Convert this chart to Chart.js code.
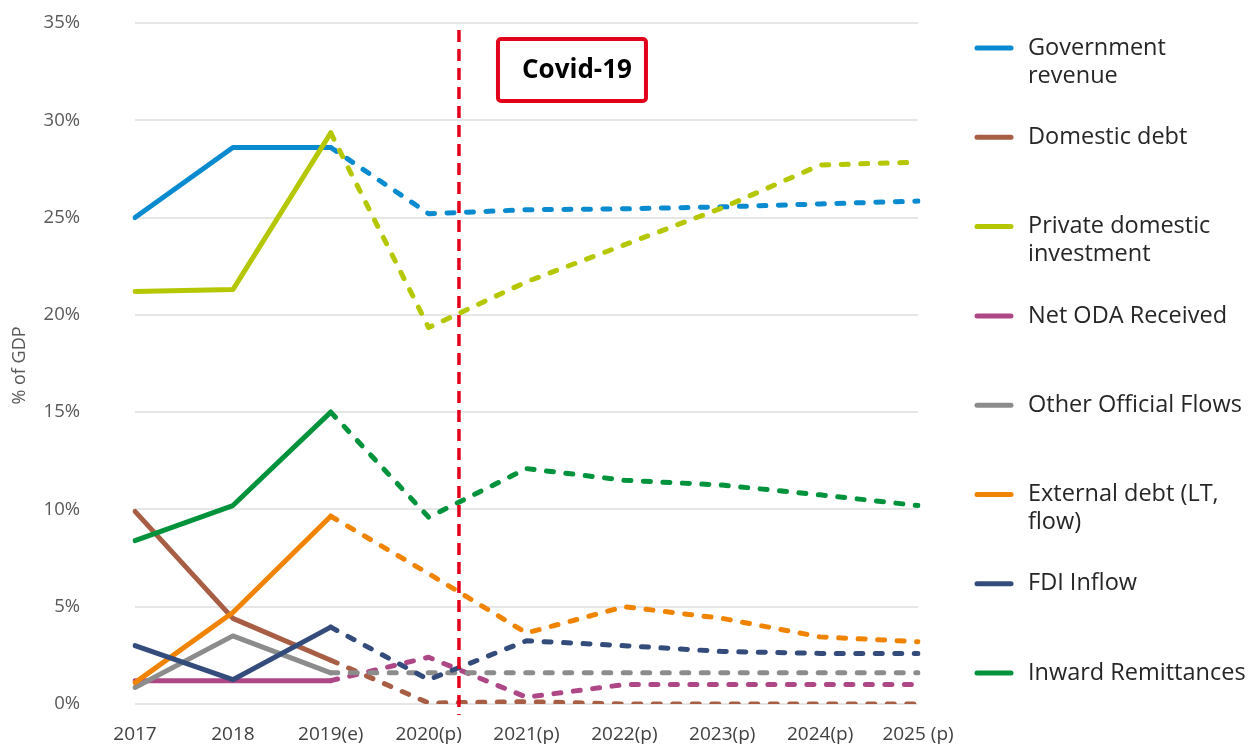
<!DOCTYPE html>
<html lang="en">
<head>
    <meta charset="UTF-8">
    <title>Financing flows, % of GDP</title>
    <script src="https://cdn.jsdelivr.net/npm/chart.js"></script>
    <style>
        body {
            margin: 0;
            padding: 0;
            background: #ffffff;
        }
        .chart-box {
            position: relative;
            width: 1249px;
            height: 747px;
        }
    </style>
</head>
<body>
    <div class="chart-box">
        <canvas id="flowsChart" width="1249" height="747"></canvas>
    </div>

    <script>
        // categories and series (% of GDP)
        const years = ["2017", "2018", "2019(e)", "2020(p)", "2021(p)", "2022(p)", "2023(p)", "2024(p)", "2025 (p)"];
        const govRevenue = [25.0, 28.6, 28.6, 25.2, 25.4, 25.45, 25.55, 25.7, 25.85];
        const domesticDebt = [9.9, 4.4, 2.25, 0.05, 0.12, 0, 0, 0, 0];
        const privateInvestment = [21.2, 21.3, 29.35, 19.35, 21.7, 23.6, 25.5, 27.7, 27.85];
        const netOda = [1.2, 1.2, 1.2, 2.4, 0.35, 1.0, 1.0, 1.0, 1.0];
        const otherOfficial = [0.85, 3.5, 1.6, 1.6, 1.6, 1.6, 1.6, 1.6, 1.6];
        const externalDebt = [1.1, 4.7, 9.65, 6.7, 3.65, 5.0, 4.4, 3.45, 3.2];
        const fdiInflow = [3.0, 1.25, 3.95, 1.25, 3.25, 3.0, 2.7, 2.6, 2.6];
        const remittances = [8.4, 10.2, 15.0, 9.6, 12.1, 11.5, 11.25, 10.75, 10.2];

        const seriesNames = [
            ["Government", "revenue"],
            ["Domestic debt"],
            ["Private domestic", "investment"],
            ["Net ODA Received"],
            ["Other Official Flows"],
            ["External debt (LT,", "flow)"],
            ["FDI Inflow"],
            ["Inward Remittances"]
        ];
        const seriesValues = [govRevenue, domesticDebt, privateInvestment, netOda, otherOfficial, externalDebt, fdiInflow, remittances];
        const seriesColors = ["#0A8BD0", "#A85E45", "#B4C700", "#AE4786", "#8C8C8C", "#F08400", "#344C7C", "#00933C"];

        const yTicks = [0, 5, 10, 15, 20, 25, 30, 35];
        const yTitle = "% of GDP";
        const lastActualIndex = 2;     // 2019(e): dashed after this point
        const covidLabel = "Covid-19";
        const covidAt = 3.31;          // between 2020(p) and 2021(p)

        const FONT = "'Open Sans', 'Noto Sans', sans-serif";

        const datasets = seriesValues.map(function (vals, i) {
            return {
                label: seriesNames[i].join(" "),
                data: vals,
                borderColor: seriesColors[i],
                backgroundColor: seriesColors[i],
                borderWidth: 5,
                borderCapStyle: "round",
                borderJoinStyle: "round",
                pointRadius: 0,
                tension: 0,
                order: seriesValues.length - i,
                segment: {
                    borderDash: function (ctx) {
                        return ctx.p0DataIndex >= lastActualIndex ? [7, 12.5] : undefined;
                    }
                }
            };
        });

        // red dashed marker line + Covid-19 box + y title + legend on the right
        const extras = {
            id: "extras",
            afterDatasetsDraw: function (chart) {
                const c = chart.ctx;
                const area = chart.chartArea;
                const x = chart.scales.x.getPixelForValue(covidAt);

                c.save();
                c.strokeStyle = "#E3001B";
                c.lineWidth = 3.5;
                c.setLineDash([12, 7]);
                c.beginPath();
                c.moveTo(x, area.top + 7);
                c.lineTo(x, area.bottom + 11);
                c.stroke();
                c.setLineDash([]);

                // box
                const bx = x + 39, by = area.top + 16, bw = 148, bh = 62;
                c.lineWidth = 4;
                c.beginPath();
                c.roundRect(bx, by, bw, bh, 3);
                c.fillStyle = "#ffffff";
                c.fill();
                c.stroke();
                c.fillStyle = "#000000";
                c.font = "bold 26px " + FONT;
                c.textAlign = "center";
                c.textBaseline = "middle";
                c.fillText(covidLabel, bx + bw / 2 + 5, by + bh / 2 + 1);
                c.restore();

                // y axis title
                c.save();
                c.translate(20, (area.top + area.bottom) / 2 + 2);
                c.rotate(-Math.PI / 2);
                c.font = "18px " + FONT;
                c.fillStyle = "#595959";
                c.textAlign = "center";
                c.textBaseline = "middle";
                c.fillText(yTitle, 0, 0);
                c.restore();

                // legend
                c.save();
                c.font = "23.5px " + FONT;
                c.textAlign = "left";
                c.textBaseline = "middle";
                seriesNames.forEach(function (lines, i) {
                    const y = 48 + i * 89.3;
                    c.strokeStyle = seriesColors[i];
                    c.lineWidth = 5;
                    c.lineCap = "round";
                    c.beginPath();
                    c.moveTo(977, y);
                    c.lineTo(1011, y);
                    c.stroke();
                    c.fillStyle = "#262626";
                    lines.forEach(function (t, k) {
                        c.fillText(t, 1028, y + k * 28);
                    });
                });
                c.restore();
            }
        };

        new Chart(document.getElementById("flowsChart"), {
            type: "line",
            data: { labels: years, datasets: datasets },
            plugins: [extras],
            options: {
                responsive: false,
                animation: false,
                devicePixelRatio: 1,
                layout: { padding: { top: 23, right: 331, left: 0, bottom: 0 } },
                plugins: {
                    legend: { display: false },
                    tooltip: { enabled: false }
                },
                scales: {
                    x: {
                        offset: false,
                        grid: { display: false },
                        border: { display: false },
                        afterFit: function (scale) { scale.height = 43; },
                        ticks: {
                            color: "#404040",
                            font: { family: FONT, size: 19 },
                            padding: 11,
                            maxRotation: 0,
                            autoSkip: false
                        }
                    },
                    y: {
                        min: 0,
                        max: 35,
                        afterBuildTicks: function (scale) {
                            scale.ticks = yTicks.map(function (v) { return { value: v }; });
                        },
                        afterFit: function (scale) { scale.width = 135; },
                        grid: {
                            color: "#E6E6E6",
                            lineWidth: 2,
                            drawTicks: true,
                            tickLength: 47,
                            tickColor: "rgba(0,0,0,0)"
                        },
                        border: { display: false },
                        ticks: {
                            color: "#595959",
                            font: { family: FONT, size: 18.5 },
                            padding: 8,
                            callback: function (v) { return v + "%"; }
                        }
                    }
                }
            }
        });
    </script>
</body>
</html>
